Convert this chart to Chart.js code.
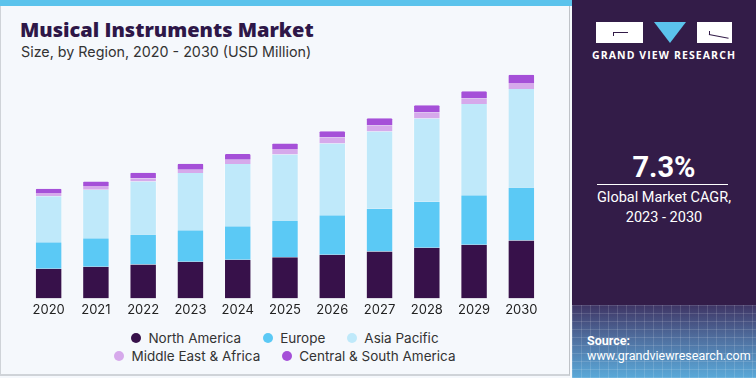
<!DOCTYPE html>
<html>
<head>
<meta charset="utf-8">
<script src="https://cdn.jsdelivr.net/npm/chart.js@4"></script>
<style>
  html, body { margin:0; padding:0; }
  body { width:756px; height:378px; position:relative; overflow:hidden; background:#f5f8fc; font-family: Inter, "Noto Sans", sans-serif; }
  #left { position:absolute; left:0; top:0; width:570px; height:376px; border-left:1px solid #cfd3d8; border-bottom:2px solid #cfd3d8; border-right:1px solid #bfc3c8; box-sizing:border-box; background:#f5f8fc; }
  #strip { position:absolute; left:0; top:0; width:572px; height:6px; background:#5bc3ec; }
  #title { position:absolute; left:20px; top:16px; font-family: "Open Sans", Roboto, sans-serif; font-weight:800; font-size:20px; color:#2e1748; letter-spacing:0px; }
  #subtitle { position:absolute; left:21px; top:43px; font-size:14.3px; color:#333; }
  #chartWrap { position:absolute; left:0; top:60px; width:570px; height:264px; }
  #legend { position:absolute; left:0; top:329px; width:570px; font-size:13.5px; color:#333; }
  .lrow { display:flex; justify-content:center; height:18px; align-items:center; }
  .litem { display:flex; align-items:center; margin:0 11px; }
  .dot { width:10px; height:10px; border-radius:50%; margin-right:7px; }
  #panel { position:absolute; left:572px; top:0; width:184px; height:378px; background:#331c48; overflow:hidden; }
  #grid { position:absolute; left:0; top:305px; width:184px; height:73px;
    background:
      repeating-linear-gradient(90deg, rgba(255,255,255,0.13) 0 1px, transparent 1px 9px),
      repeating-linear-gradient(0deg, rgba(255,255,255,0.13) 0 1px, transparent 1px 8px),
      linear-gradient(180deg, #3f3565 0%, #4f6e9e 45%, #5aa9d9 100%); }
  .box { position:absolute; top:22px; height:21px; background:#ffffff; }
  .ln { position:absolute; background:#331c48; }
  #tri { position:absolute; left:82px; top:22px; width:0; height:0; border-left:16px solid transparent; border-right:16px solid transparent; border-top:21px solid #5bc3ec; }
  #gvr { position:absolute; left:0; top:48px; width:184px; text-align:center; color:#fff; font-family: "Open Sans", "Noto Sans", sans-serif; font-weight:700; font-size:10.5px; letter-spacing:1.1px; }
  #cagr { position:absolute; left:0; top:150px; width:184px; text-align:center; color:#fff; font-family: Roboto, "Noto Sans", sans-serif; font-weight:700; font-size:29px; }
  #cline { position:absolute; left:25px; top:184px; width:131px; height:1px; background:#fff; }
  #ctext { position:absolute; left:0; top:188px; width:184px; text-align:center; color:#fff; font-family: Roboto, "Noto Sans", sans-serif; font-size:14.5px; line-height:20px; }
  #src { position:absolute; left:15px; top:333px; color:#fff; font-family: Roboto, "Noto Sans", sans-serif; font-size:12.5px; line-height:15px; }
</style>
</head>
<body>
<div id="left"></div>
<div id="strip"></div>
<div id="title">Musical Instruments Market</div>
<div id="subtitle">Size, by Region, 2020 - 2030 (USD Million)</div>
<div id="chartWrap"><canvas id="c"></canvas></div>
<div id="legend"></div>
<div id="panel">
  <div id="grid"></div>
  <div class="box" style="left:24px;width:47px;">
    <div class="ln" style="left:17px;top:10px;width:15px;height:1px;"></div>
    <div class="ln" style="left:17px;top:10px;width:1px;height:4px;"></div>
  </div>
  <div id="tri"></div>
  <div class="box" style="left:125px;width:35px;">
    <div class="ln" style="left:12px;top:9px;width:1px;height:4px;"></div>
    <div class="ln" style="left:12px;top:12px;width:20px;height:1px;transform:rotate(11deg);transform-origin:0 0;"></div>
  </div>
  <div id="gvr">GRAND VIEW RESEARCH</div>
  <div id="cagr">7.3%</div>
  <div id="cline"></div>
  <div id="ctext">Global Market CAGR,<br>2023 - 2030</div>
  <div id="src"><b>Source:</b><br>www.grandviewresearch.com</div>
</div>
<script>
const years = ['2020','2021','2022','2023','2024','2025','2026','2027','2028','2029','2030'];
const northAmerica = [2970, 3170, 3400, 3670, 3870, 4130, 4370, 4700, 5070, 5370, 5800];
const europe       = [2660, 2860, 3000, 3160, 3360, 3620, 3960, 4300, 4630, 4960, 5330];
const asiaPacific  = [4600, 4870, 5330, 5740, 6240, 6680, 7200, 7730, 8330, 9170, 9870];
const middleEastAfrica = [340, 380, 320, 340, 430, 540, 600, 600, 600, 530, 600];
const centralSouthAmerica = [430, 430, 540, 600, 570, 560, 640, 740, 740, 740, 830];
const seriesNames = ['North America','Europe','Asia Pacific','Middle East & Africa','Central & South America'];
const seriesColors = ['#37114a','#5bc9f5','#bfe9fa','#d6a9eb','#a550d8'];
const seriesData = [northAmerica, europe, asiaPacific, middleEastAfrica, centralSouthAmerica];

const datasets = seriesData.map((d, i) => ({
  label: seriesNames[i],
  data: d,
  backgroundColor: seriesColors[i],
  borderColor: 'rgba(255,255,255,0.35)',
  borderWidth: {left:1, right:1, top:0, bottom:0},
  borderRadius: i === 4 ? {topLeft:2, topRight:2} : 0,
  borderSkipped: false,
  barPercentage: 0.58,
  categoryPercentage: 1.0
}));

const chart = new Chart(document.getElementById('c'), {
  type: 'bar',
  data: { labels: years, datasets },
  options: {
    responsive: true,
    maintainAspectRatio: false,
    animation: false,
    layout: { padding: { left: 25, right: 25, top: 10, bottom: 2 } },
    plugins: { legend: { display: false }, tooltip: { enabled: false } },
    scales: {
      x: { stacked: true, grid: { display: false, drawTicks: false }, border: { display: false },
           ticks: { padding: 4, color: '#222', font: { family: 'Inter', size: 13 } } },
      y: { stacked: true, display: false, min: 0, max: 22900 }
    }
  }
});

const legend = document.getElementById('legend');
const rows = [[0,1,2],[3,4]];
rows.forEach(r => {
  const row = document.createElement('div');
  row.className = 'lrow';
  r.forEach(i => {
    const it = document.createElement('div');
    it.className = 'litem';
    const dot = document.createElement('span');
    dot.className = 'dot';
    dot.style.background = chart.data.datasets[i].backgroundColor;
    const t = document.createElement('span');
    t.textContent = chart.data.datasets[i].label;
    it.appendChild(dot); it.appendChild(t);
    row.appendChild(it);
  });
  legend.appendChild(row);
});
</script>
</body>
</html>
